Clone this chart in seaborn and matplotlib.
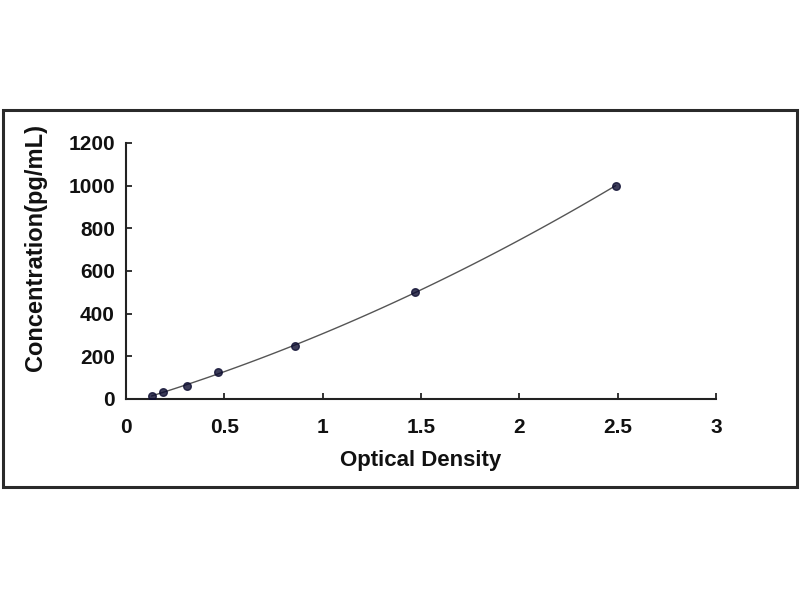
import matplotlib
matplotlib.use("Agg")
import matplotlib.pyplot as plt
from matplotlib.patches import Rectangle
import seaborn as sns
import pandas as pd

# standard curve readings
optical_density = [0.13, 0.19, 0.31, 0.47, 0.86, 1.47, 2.49]
concentration = [15.6, 31.25, 62.5, 125, 250, 500, 1000]
x_ticks = [0, 0.5, 1, 1.5, 2, 2.5, 3]
y_ticks = [0, 200, 400, 600, 800, 1000, 1200]

df = pd.DataFrame({"od": optical_density, "conc": concentration})

sns.set_theme(style="ticks")
plt.rcParams["font.family"] = ["Liberation Sans", "DejaVu Sans"]
plt.rcParams["font.weight"] = "bold"

fig = plt.figure(figsize=(8, 6), dpi=100)
ax = fig.add_axes([0.1575, 0.335, 0.7375, 0.4267])

# outer frame around the chart
fig.patches.append(Rectangle((0.004, 0.188), 0.992, 0.628, transform=fig.transFigure,
                             fill=False, edgecolor="#2a2a2a", linewidth=2.2))

sns.regplot(data=df, x="od", y="conc", order=2, ci=None, ax=ax,
            scatter_kws=dict(marker="D", s=30, color="#0c0c30", zorder=3),
            line_kws=dict(color="#555555", lw=1.0))

ax.set_xlim(0, 3)
ax.set_ylim(0, 1200)
ax.set_xticks(x_ticks)
ax.set_xticklabels([f"{t:g}" for t in x_ticks])
ax.set_yticks(y_ticks)
ax.tick_params(axis="y", direction="in", length=4, width=1.2, labelsize=15, pad=8, colors="#111111")
ax.tick_params(axis="x", direction="in", length=4, width=1.2, labelsize=15, pad=14, colors="#111111")
for lab in ax.get_xticklabels() + ax.get_yticklabels():
    lab.set_fontweight("bold")
sns.despine(ax=ax)
for s in ["left", "bottom"]:
    ax.spines[s].set_linewidth(1.5)
    ax.spines[s].set_color("#222222")

ax.set_xlabel("Optical Density", fontsize=16, fontweight="bold", color="#111111")
ax.set_ylabel("Concentration(pg/mL)", fontsize=17, fontweight="bold", color="#111111")
ax.xaxis.set_label_coords(0.5, -0.2)
ax.yaxis.set_label_coords(-0.134, 0.59)

fig.savefig("out.png", dpi=100, facecolor="white")
